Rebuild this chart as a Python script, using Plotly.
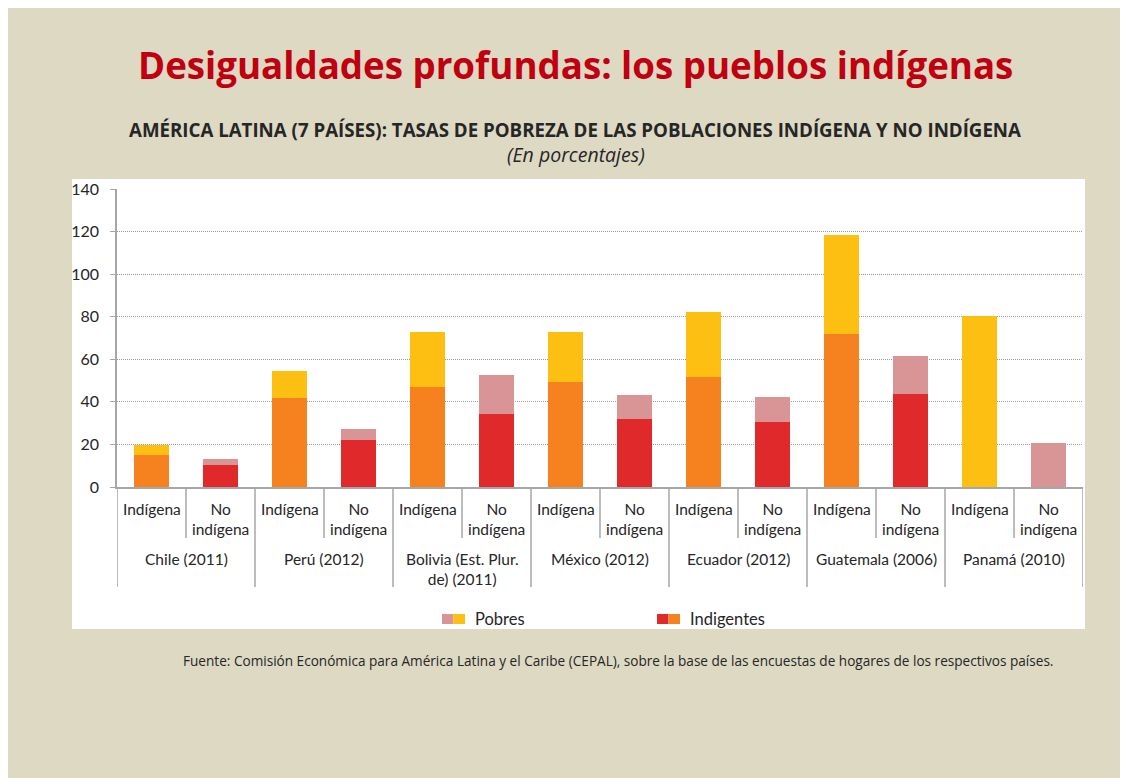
import plotly.graph_objects as go


# =========================================================
# DATOS
# =========================================================

paises = [
    "Chile (2011)",
    "Perú (2012)",
    "Bolivia (Est. Plur.<br>de) (2011)",
    "México (2012)",
    "Ecuador (2012)",
    "Guatemala (2006)",
    "Panamá (2010)",
]
grupos = ["Indígena", "No<br>indígena"]

# segmento inferior (Indigentes) y superior (Pobres), en %
indigentes_indigena = [15.0, 41.6, 46.9, 49.4, 51.9, 72.1, 0]
indigentes_no_indigena = [10.3, 22.1, 34.5, 32.0, 30.5, 43.5, 0]
pobres_indigena = [4.7, 13.0, 26.1, 23.6, 30.5, 46.4, 80.5]
pobres_no_indigena = [2.8, 5.1, 18.1, 11.0, 12.0, 18.1, 20.6]

y_ticks = [0, 20, 40, 60, 80, 100, 120, 140]

# colores: [indígena, no indígena]
COLOR_INDIGENTES = ["#F5821F", "#E0292A"]
COLOR_POBRES = ["#FDBF12", "#D99595"]

FONDO = "#DDD9C3"
GRIS = "#A6A6A6"
TEXTO = "#262626"
FUENTE = "Lato, 'Open Sans', sans-serif"
FUENTE_ANCHA = "'Open Sans', Lato, sans-serif"


# =========================================================
# GEOMETRÍA (píxeles de la figura -> coordenadas paper)
# =========================================================

W, H = 1128, 778
ML, MR, MT, MB = 109, 53, 181, 299
PW = W - ML - MR
PH = H - MT - MB


def px(fx):
    return (fx - ML) / PW


def py(fy):
    return (H - MB - fy) / PH


# =========================================================
# SERIES
# =========================================================

categorias = []
y_indigentes = []
y_pobres = []
c_indigentes = []
c_pobres = []

for i, pais in enumerate(paises):
    valores = [
        (indigentes_indigena[i], pobres_indigena[i]),
        (indigentes_no_indigena[i], pobres_no_indigena[i]),
    ]
    for j, grupo in enumerate(grupos):
        categorias.append(f"{pais} | {grupo}")
        y_indigentes.append(valores[j][0])
        y_pobres.append(valores[j][1])
        c_indigentes.append(COLOR_INDIGENTES[j])
        c_pobres.append(COLOR_POBRES[j])

fig = go.Figure()

fig.add_trace(
    go.Bar(
        x=categorias,
        y=y_indigentes,
        name="Indigentes",
        marker=dict(color=c_indigentes, line=dict(width=0)),
        showlegend=False,
    )
)

fig.add_trace(
    go.Bar(
        x=categorias,
        y=y_pobres,
        name="Pobres",
        marker=dict(color=c_pobres, line=dict(width=0)),
        showlegend=False,
    )
)


# =========================================================
# ETIQUETAS DEL EJE X Y DIVISORES
# =========================================================

annotations = []
shapes = []

# caja blanca del gráfico
shapes.append(dict(
    type="rect", xref="paper", yref="paper",
    x0=px(64), x1=px(1077), y0=py(621), y1=py(171),
    fillcolor="white", line=dict(width=0), layer="below",
))

for k, cat in enumerate(categorias):
    annotations.append(dict(
        x=k, xref="x", y=py(490), yref="paper",
        text=grupos[k % 2], showarrow=False,
        xanchor="center", yanchor="top",
        font=dict(size=15.5, color=TEXTO, family=FUENTE),
    ))

for i, pais in enumerate(paises):
    annotations.append(dict(
        x=2 * i + 0.5, xref="x", y=py(540), yref="paper",
        text=pais, showarrow=False,
        xanchor="center", yanchor="top",
        font=dict(size=15.5, color=TEXTO, family=FUENTE),
    ))

for k in range(len(categorias) + 1):
    fondo = 579 if k % 2 == 0 else 530
    shapes.append(dict(
        type="line", xref="x", yref="paper",
        x0=k - 0.5, x1=k - 0.5, y0=0, y1=py(fondo),
        line=dict(color=GRIS, width=1.5),
    ))


# =========================================================
# LEYENDA
# =========================================================

leyenda = [
    ("Pobres", COLOR_POBRES, 434),
    ("Indigentes", COLOR_INDIGENTES, 649),
]

for nombre, colores, x0 in leyenda:
    shapes.append(dict(
        type="rect", xref="paper", yref="paper",
        x0=px(x0), x1=px(x0 + 11.5), y0=py(616), y1=py(606),
        fillcolor=colores[1], line=dict(width=0),
    ))
    shapes.append(dict(
        type="rect", xref="paper", yref="paper",
        x0=px(x0 + 11.5), x1=px(x0 + 23), y0=py(616), y1=py(606),
        fillcolor=colores[0], line=dict(width=0),
    ))
    annotations.append(dict(
        x=px(x0 + 31), y=py(611), xref="paper", yref="paper",
        text=nombre, showarrow=False,
        xanchor="left", yanchor="middle",
        font=dict(size=16.5, color=TEXTO, family=FUENTE),
    ))


# =========================================================
# TÍTULOS Y FUENTE
# =========================================================

textos = [
    ("<b>Desigualdades profundas: los pueblos indígenas</b>",
     567, 57, 36.7, "#C00010"),
    ("<b>AMÉRICA LATINA (7 PAÍSES): TASAS DE POBREZA DE LAS "
     "POBLACIONES INDÍGENA Y NO INDÍGENA</b>", 567, 121, 18.7, TEXTO),
    ("<i>(En porcentajes)</i>", 568, 146.5, 19.5, TEXTO),
    ("Fuente: Comisión Económica para América Latina y el Caribe (CEPAL), "
     "sobre la base de las encuestas de hogares de los respectivos países.",
     610, 652, 13.6, TEXTO),
]

for texto, fx, fy, size, color in textos:
    annotations.append(dict(
        x=px(fx), y=py(fy), xref="paper", yref="paper",
        text=texto, showarrow=False,
        xanchor="center", yanchor="middle", borderpad=0,
        font=dict(size=size, color=color, family=FUENTE_ANCHA),
    ))


# =========================================================
# LAYOUT
# =========================================================

fig.update_layout(
    width=W,
    height=H,
    margin=dict(l=ML, r=MR, t=MT, b=MB),
    paper_bgcolor=FONDO,
    plot_bgcolor="white",
    barmode="stack",
    bargap=0.49,
    font=dict(family=FUENTE, color=TEXTO),
    xaxis=dict(
        type="category",
        range=[-0.5, len(categorias) - 0.5],
        showticklabels=False,
        showgrid=False,
        showline=True,
        linecolor=GRIS,
        linewidth=1.5,
        ticks="",
    ),
    yaxis=dict(
        range=[0, 140],
        tickvals=y_ticks,
        showgrid=True,
        gridcolor="#9A9A9A",
        griddash="1px,1px",
        gridwidth=1,
        zeroline=False,
        showline=True,
        linecolor=GRIS,
        linewidth=1.5,
        ticks="outside",
        ticklen=5,
        tickcolor=GRIS,
        ticklabelstandoff=8,
        tickfont=dict(size=16, color=TEXTO, family=FUENTE),
    ),
    annotations=annotations,
    shapes=shapes,
)

fig.write_html("out.html")
